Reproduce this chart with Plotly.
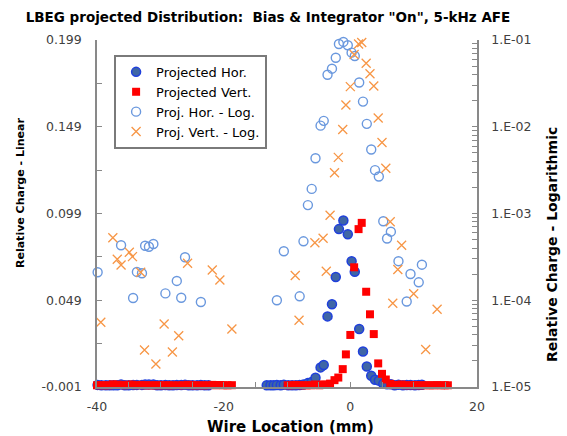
import plotly.graph_objects as go

# ---------------- data ----------------
hor_x = [-39.9, -39.3, -38.6, -38.0, -37.4, -36.8, -36.2, -35.6, -35.0, -34.3, -33.7, -32.9,
         -32.4, -31.8, -31.1, -30.5, -29.9, -29.2, -28.6, -28.0, -27.4, -26.7, -26.1, -25.5,
         -24.9, -24.2, -23.6, -23.0, -22.4,
         -13.2, -12.6, -12.1, -11.6, -11.0, -10.5, -9.8, -9.2, -8.6, -8.0, -7.4, -6.7, -6.1,
         -5.5, -4.7, -4.2, -3.6, -2.9, -2.3, -1.8, -1.1, -0.4, 0.2, 0.7, 1.4, 2.0, 2.6, 3.3,
         3.9, 4.5, 5.2, 5.8, 6.4, 7.0, 7.6, 8.3, 8.9, 9.5, 10.2, 10.8, 11.3]
hor_val = [2.1e-4, 0, 0, 0, 0, 0, 4.3e-4, 0, 0, 1.06e-4, 2.12e-4, 2.05e-4,
           4.25e-4, 4.14e-4, 4.45e-4, 0, 0, 1.2e-4, 0, 0, 1.67e-4, 1.07e-4, 3.13e-4, 0,
           0, 0, 9.55e-5, 0, 0,
           0, 0, 0, 1.0e-4, 0, 3.67e-4, 0, 0, 0, 1.11e-4, 4.78e-4, 1.25e-3, 1.92e-3,
           4.33e-3, 1.03e-2, 1.17e-2, 3.97e-2, 4.67e-2, 6.24e-2, 9.0e-2, 9.5e-2, 8.7e-2,
           7.15e-2, 6.54e-2, 3.24e-2, 1.95e-2, 1.08e-2, 5.47e-3,
           3.16e-3, 2.67e-3, 8.13e-4, 5.15e-4, 6.17e-4, 0, 2.82e-4, 0, 9.68e-5, 2.01e-4, 0,
           1.61e-4, 2.57e-4]

vert_x = [-40.0, -39.4, -38.8, -38.2, -37.5, -36.8, -36.2, -35.6, -34.9, -34.4, -33.8, -33.1,
          -32.5, -31.9, -31.3, -30.7, -30.1, -29.4, -28.7, -28.1, -27.1, -26.4, -25.7, -25.1,
          -24.5, -23.9, -23.2, -22.6, -21.8, -21.2, -20.6, -20.0, -19.4, -18.7,
          -9.9, -9.3, -8.7, -8.1, -7.5, -6.9, -6.2, -5.6, -4.9, -4.3, -3.8, -3.2, -2.5, -1.9,
          -1.2, -0.7, 0.0, 0.6, 1.3, 1.8, 2.5, 3.1, 3.7, 4.4, 5.0, 5.6, 6.3, 6.7, 7.5, 8.1,
          8.7, 9.4, 10.0, 10.6, 11.2, 11.9, 12.5, 13.1, 13.7, 14.3, 14.9, 15.4]
vert_val = [0, 5.57e-5, 0, 0, 5.26e-4, 2.97e-4, 2.55e-4, 0, 3.57e-4, 3.18e-4, 0, 2.1e-4,
            2.67e-5, 0, 0, 1.84e-5, 0, 5.32e-5, 0, 2.53e-5, 3.9e-5, 0, 2.67e-4, 0,
            0, 0, 0, 0, 2.23e-4, 0, 1.71e-4, 0, 0, 4.66e-5,
            0, 0, 1.93e-4, 5.89e-5, 0, 0, 0, 4.61e-4, 0, 5.18e-4, 2.16e-4, 9.53e-4, 2.95e-3,
            4.44e-3, 9.3e-3, 1.78e-2, 2.9e-2, 6.8e-2, 9.0e-2, 9.36e-2, 5.39e-2, 4.09e-2,
            2.95e-2, 1.26e-2, 6.58e-3, 3.32e-3, 8.03e-4, 9.25e-5, 2.26e-4, 4.3e-4,
            0, 0, 1.19e-4, 0, 0, 2.71e-5, 0, 0, 7.86e-5, 0, 0, 0]

lin_ticks = [-0.001, 0.024, 0.049, 0.074, 0.099, 0.124, 0.149, 0.174, 0.199]
lin_labels = ["-0.001", "", "0.049", "", "0.099", "", "0.149", "", "0.199"]
log_decades = [1e-5, 1e-4, 1e-3, 1e-2, 1e-1]
log_decade_labels = ["1.E-05", "1.E-04", "1.E-03", "1.E-02", "1.E-01"]
x_ticks = [-40, -35, -30, -25, -20, -15, -10, -5, 0, 5, 10, 15, 20]
x_labels = ["-40", "", "", "", "-20", "", "", "", "0", "", "", "", "20"]

# log tick positions (decades + minor 2..9)
log_tickvals, log_ticktext = [], []
for d, lab in zip(log_decades, log_decade_labels):
    log_tickvals.append(d)
    log_ticktext.append(lab)
    if d < 0.1:
        for m in range(2, 10):
            log_tickvals.append(m * d)
            log_ticktext.append("")

FONT = "DejaVu Sans"
AXC = "#898989"
TXT = "#404040"

fig = go.Figure()
fig.add_trace(go.Scatter(
    x=hor_x, y=hor_val, mode="markers", name="Projected Hor.", cliponaxis=False,
    marker=dict(symbol="circle", size=9, color="#3f66a6", line=dict(color="#1f3fdc", width=1.5))))
fig.add_trace(go.Scatter(
    x=vert_x, y=vert_val, mode="markers", name="Projected Vert.", cliponaxis=False,
    marker=dict(symbol="square", size=8, color="#ff0000", line=dict(width=0))))
fig.add_trace(go.Scatter(
    x=hor_x, y=hor_val, mode="markers", name="Proj. Hor. - Log.", yaxis="y2", cliponaxis=False,
    marker=dict(symbol="circle-open", size=9, color="#6a98de", line=dict(color="#6a98de", width=1.4))))
fig.add_trace(go.Scatter(
    x=vert_x, y=vert_val, mode="markers", name="Proj. Vert. - Log.", yaxis="y2", cliponaxis=False,
    marker=dict(symbol="x-thin", size=9, color="#f79646", line=dict(color="#f79646", width=1.3))))

fig.update_layout(
    width=567, height=436,
    margin=dict(l=97, r=90, t=40, b=49),
    paper_bgcolor="white", plot_bgcolor="white",
    font=dict(family=FONT, color=TXT),
    title=dict(text='LBEG projected Distribution:  Bias & Integrator "On", 5-kHz AFE',
               x=268 / 567, xanchor="center", y=1 - 17 / 436, yanchor="middle",
               font=dict(family=FONT, size=13.5, color="#000000", weight="bold")),
    xaxis=dict(range=[-40, 20], tickvals=x_ticks, ticktext=x_labels,
               ticks="inside", ticklen=5, tickcolor=AXC, ticklabelstandoff=7,
               showline=True, linecolor=AXC, linewidth=1.5, showgrid=False, zeroline=False,
               tickfont=dict(family=FONT, size=12.5, color=TXT)),
    yaxis=dict(range=[-0.001, 0.199], tickvals=lin_ticks, ticktext=lin_labels,
               ticks="inside", ticklen=5, tickcolor=AXC, ticklabelstandoff=11,
               showline=True, linecolor=AXC, linewidth=1.5, showgrid=False, zeroline=False,
               tickfont=dict(family=FONT, size=12.5, color=TXT)),
    yaxis2=dict(type="log", range=[-5, -1], overlaying="y", side="right",
                tickvals=log_tickvals, ticktext=log_ticktext,
                ticks="inside", ticklen=5, tickcolor=AXC, ticklabelstandoff=10,
                showline=True, linecolor=AXC, linewidth=1.5, showgrid=False, zeroline=False,
                tickfont=dict(family=FONT, size=12.5, color=TXT)),
    legend=dict(x=0.045, y=0.957, xanchor="left", yanchor="top",
                bgcolor="white", bordercolor="#7a7a7a", borderwidth=2,
                font=dict(family=FONT, size=13, color="#000000"),
                tracegroupgap=0, itemwidth=30),
    showlegend=True,
)

W, H = 380.0, 347.0
def px2paper(px, py):
    return (px - 97) / W, (387 - py) / H

ax, ay = px2paper(20, 193)
fig.add_annotation(x=ax, y=ay, xref="paper", yref="paper", text="Relative Charge - Linear",
                   textangle=-90, showarrow=False, xanchor="center", yanchor="middle",
                   font=dict(family=FONT, size=11, color="#000000", weight="bold"))
ax, ay = px2paper(552, 245)
fig.add_annotation(x=ax, y=ay, xref="paper", yref="paper", text="Relative Charge - Logarithmic",
                   textangle=-90, showarrow=False, xanchor="center", yanchor="middle",
                   font=dict(family=FONT, size=14, color="#000000", weight="bold"))
ax, ay = px2paper(290, 427)
fig.add_annotation(x=ax, y=ay, xref="paper", yref="paper", text="Wire Location (mm)",
                   showarrow=False, xanchor="center", yanchor="middle",
                   font=dict(family=FONT, size=15, color="#000000", weight="bold"))

fig.write_html("out.html", config={"displayModeBar": False},
               post_script="document.body.style.margin='0px';document.body.style.padding='0px';")
